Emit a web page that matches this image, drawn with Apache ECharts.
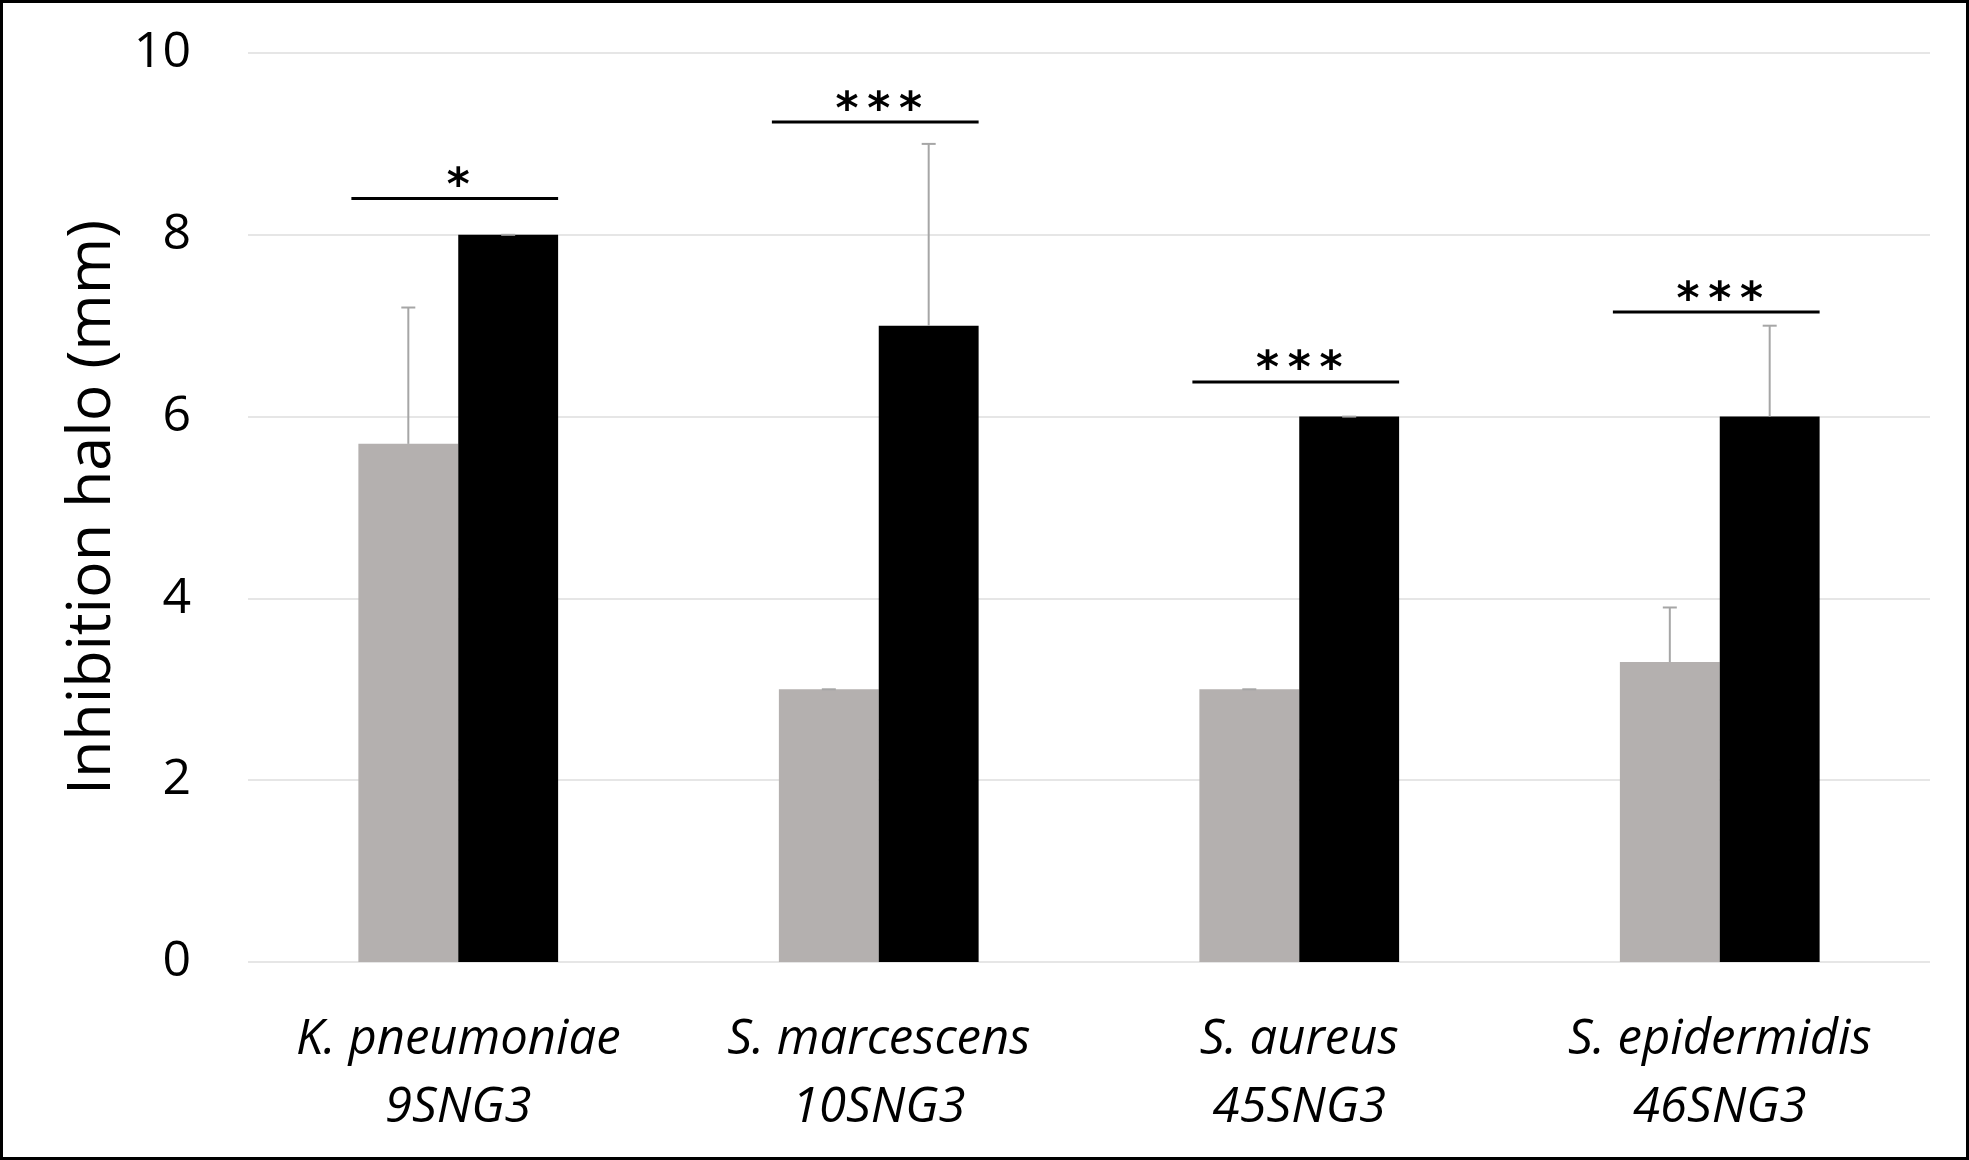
<!DOCTYPE html>
<html>
<head>
<meta charset="utf-8">
<title>Inhibition halo</title>
<script src="https://cdn.jsdelivr.net/npm/echarts@6/dist/echarts.min.js"></script>
<style>
  html, body { margin: 0; padding: 0; background: #fff; }
  #chart { width: 1969px; height: 1160px; }
</style>
</head>
<body>
<div id="chart"></div>
<script>
// data
var categories = ['K. pneumoniae\n9SNG3', 'S. marcescens\n10SNG3', 'S. aureus\n45SNG3', 'S. epidermidis\n46SNG3'];
var greyValues = [5.7, 3.0, 3.0, 3.3];
var greyErrors = [1.5, 0, 0, 0.6];
var blackValues = [8.0, 7.0, 6.0, 6.0];
var blackErrors = [0, 2.0, 0, 1.0];
var sigHeights = [8.4, 9.24, 6.38, 7.15];
var sigLabels = ['*', '***', '***', '***'];
var yTicks = [0, 2, 4, 6, 8, 10];

var GAP = 0.525; // barCategoryGap as fraction
var FONT = '"Open Sans", "Noto Sans", sans-serif';

var chart = echarts.init(document.getElementById('chart'));

// error bar data: [category index, mean, error, which bar (0 grey, 1 black)]
var errData = [];
categories.forEach(function (c, i) {
    errData.push([i, greyValues[i], greyErrors[i], 0]);
    errData.push([i, blackValues[i], blackErrors[i], 1]);
});

var sigData = categories.map(function (c, i) {
    return [i, sigHeights[i], sigLabels[i]];
});

function barWidth(api) {
    return api.size([1, 0])[0] * (1 - GAP) / 2;
}

function renderError(params, api) {
    var bw = barWidth(api);
    var off = api.value(3) === 0 ? -bw / 2 : bw / 2;
    var base = api.coord([api.value(0), api.value(1)]);
    var top = api.coord([api.value(0), api.value(1) + api.value(2)]);
    var x = base[0] + off;
    var st = { stroke: '#a6a6a6', lineWidth: 2 };
    return {
        type: 'group',
        children: [
            { type: 'line', shape: { x1: x, y1: base[1], x2: x, y2: top[1] }, style: st },
            { type: 'line', shape: { x1: x - 7, y1: top[1], x2: x + 7, y2: top[1] }, style: st }
        ]
    };
}

function renderSig(params, api) {
    var bw = barWidth(api);
    var p = api.coord([api.value(0), api.value(1)]);
    return {
        type: 'group',
        children: [
            {
                type: 'line',
                shape: { x1: p[0] - bw * 1.07, y1: p[1], x2: p[0] + bw * 1.0, y2: p[1] },
                style: { stroke: '#000', lineWidth: 3 }
            },
            {
                type: 'text',
                style: {
                    // stars are spaced apart a little in the original
                    text: sigData[params.dataIndex][2].split('').join('\u2009'),
                    x: p[0], y: p[1] - 11,
                    align: 'center', verticalAlign: 'middle',
                    fontSize: 44, fontWeight: 'bold',
                    fontFamily: '"DejaVu Sans", sans-serif',
                    fill: '#000'
                }
            }
        ]
    };
}

var option = {
    animation: false,
    backgroundColor: '#fff',
    graphic: [{
        type: 'rect',
        shape: { x: 1.5, y: 1.5, width: 1966, height: 1157 },
        style: { fill: 'none', stroke: '#000', lineWidth: 3 },
        z: 100
    }],
    grid: { left: 248, right: 39, top: 53, bottom: 198 },
    xAxis: {
        type: 'category',
        data: categories,
        axisLine: { show: false },
        axisTick: { show: false },
        axisLabel: {
            interval: 0,
            hideOverlap: false,
            margin: 44,
            fontSize: 49,
            fontStyle: 'italic',
            fontFamily: FONT,
            color: '#000',
            lineHeight: 68
        }
    },
    yAxis: {
        type: 'value',
        min: yTicks[0],
        max: yTicks[yTicks.length - 1],
        interval: 2,
        name: 'Inhibition halo (mm)',
        nameLocation: 'middle',
        nameGap: 122,
        nameTextStyle: { fontSize: 61, fontFamily: FONT, color: '#000' },
        axisLine: { show: false },
        axisTick: { show: false },
        splitLine: { lineStyle: { color: '#e6e6e6', width: 2 } },
        axisLabel: { margin: 57, fontSize: 50, fontFamily: FONT, color: '#000' }
    },
    series: [
        {
            name: 'grey',
            type: 'bar',
            data: greyValues,
            barGap: '0%',
            barCategoryGap: (GAP * 100) + '%',
            itemStyle: { color: '#b4b0af' }
        },
        {
            name: 'black',
            type: 'bar',
            data: blackValues,
            itemStyle: { color: '#000' }
        },
        {
            type: 'custom',
            renderItem: renderError,
            data: errData,
            encode: { x: 0, y: 1 },
            clip: false,
            z: 5
        },
        {
            type: 'custom',
            renderItem: renderSig,
            data: sigData,
            encode: { x: 0, y: 1 },
            clip: false,
            z: 5
        }
    ]
};

chart.setOption(option);
</script>
</body>
</html>
